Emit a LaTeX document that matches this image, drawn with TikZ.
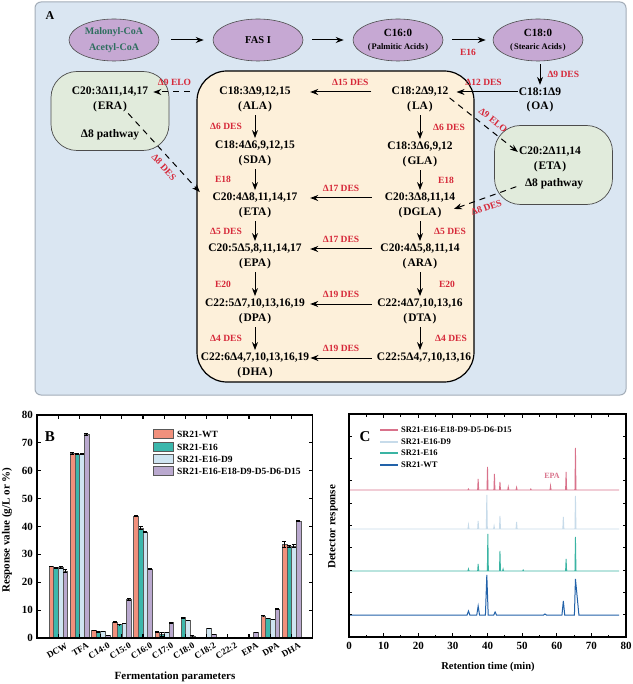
\documentclass[tikz,border=0pt]{standalone}
\usepackage{fontspec}
\setmainfont{Liberation Serif}
\usetikzlibrary{shapes.geometric, arrows.meta}
\definecolor{panelblue}{HTML}{DAE6F2}
\definecolor{panelline}{HTML}{A3ADB8}
\definecolor{lilac}{HTML}{C6A8D3}
\definecolor{cream}{HTML}{FDF0DA}
\definecolor{sage}{HTML}{E1EBDC}
\definecolor{enzred}{HTML}{D62839}
\definecolor{coagreen}{HTML}{2E6E5E}
\definecolor{wtsalmon}{HTML}{F1907C}
\definecolor{eteal}{HTML}{3BB7AC}
\definecolor{dnine}{HTML}{CFE5F2}
\definecolor{dall}{HTML}{BAA9CF}
\definecolor{trpink}{HTML}{D9728B}
\definecolor{trlight}{HTML}{C7DBEA}
\definecolor{trteal}{HTML}{3AB4A3}
\definecolor{trblue}{HTML}{2262A9}
\tikzset{
  srcnode/.style={
    ellipse, draw=black!70, fill=lilac, line width=0.6pt,
    minimum width=90pt, minimum height=42pt, inner sep=0pt,
    align=center, font=\fontsize{8.5}{13}\selectfont\bfseries,
  },
  cmpd/.style={font=\fontsize{11.5}{13}\selectfont\bfseries, inner sep=1pt},
  cmpdL/.style={cmpd, minimum width=110pt},
  cmpdR/.style={cmpd, minimum width=96pt},
  enz/.style={font=\fontsize{9.5}{10}\selectfont\bfseries, text=enzred, inner sep=1pt},
  corebox/.style={rectangle, draw=black, fill=cream, line width=1.2pt,
    rounded corners=30pt, minimum width=277pt, minimum height=311pt},
  pathbox/.style={rectangle, draw=black!70, fill=sage, line width=0.7pt,
    rounded corners=26pt, minimum width=118pt, minimum height=79pt},
  arrow/.style={-{Stealth[length=8pt, width=6pt]}, line width=1pt},
  dasharrow/.style={arrow, dash pattern=on 6pt off 5pt},
  barbox/.style={draw=black!65, line width=0.4pt},
  errbar/.style={{Bar[width=4pt]}-{Bar[width=4pt]}, line width=0.8pt},
  axframe/.style={line width=1.1pt},
  ticklbl/.style={font=\fontsize{11}{12}\selectfont\bfseries, inner sep=1pt},
  catlbl/.style={font=\fontsize{9}{10}\selectfont\bfseries, inner sep=0pt},
  axlbl/.style={font=\fontsize{11}{12}\selectfont\bfseries},
  leglbl/.style={font=\fontsize{9.5}{10}\selectfont\bfseries, inner sep=1pt},
}

\begin{document}
\begin{tikzpicture}[x=1pt, y=-1pt]
  \useasboundingbox[fill=white] (0,0) rectangle (632,684);

  % ---------------- Panel A ----------------
  \draw[fill=panelblue, draw=panelline, line width=1pt, rounded corners=6pt] (35,2) rectangle (626,395);
  \node[font=\fontsize{12}{14}\selectfont\bfseries] (labA) at (50,16) {A};

  \node[corebox] (core)   at (335.5,226.5) {};
  \node[pathbox] (erabox) at (110,111) {};
  \node[pathbox] (etabox) at (553.5,165) {};

  % Row 0: precursors
  \node[srcnode, text=coagreen, font=\fontsize{10}{16}\selectfont\bfseries] (mal) at (114,40) {Malonyl-CoA\\Acetyl-CoA};
  \node[srcnode, font=\fontsize{10.5}{12}\selectfont\bfseries] (fas) at (258,40) {FAS I};
  \node[srcnode] (c16) at (398,40) {{\fontsize{11}{13}\selectfont C16:0}\\(\kern1pt Palmitic Acids\kern1pt)};
  \node[srcnode] (c18) at (538,40) {{\fontsize{11}{13}\selectfont C18:0}\\(\kern1pt Stearic Acids\kern1pt)};

  \node[cmpd] (oa)    at (540,92)  {C18:1Δ9};
  \node[cmpd] (oa-ab) at (540,107) {(\kern1pt OA\kern1pt)};

  % n-3 column
  \node[cmpdL] (ala)    at (255,92)  {C18:3Δ9,12,15};
  \node[cmpd]  (ala-ab) at (255,107) {(\kern1pt ALA\kern1pt)};
  \node[cmpdL] (sda)    at (255,146) {C18:4Δ6,9,12,15};
  \node[cmpd]  (sda-ab) at (255,161) {(\kern1pt SDA\kern1pt)};
  \node[cmpdL] (eta)    at (255,198) {C20:4Δ8,11,14,17};
  \node[cmpd]  (eta-ab) at (255,213) {(\kern1pt ETA\kern1pt)};
  \node[cmpdL] (epa)    at (255,249) {C20:5Δ5,8,11,14,17};
  \node[cmpd]  (epa-ab) at (255,264) {(\kern1pt EPA\kern1pt)};
  \node[cmpdL] (dpa)    at (255,304) {C22:5Δ7,10,13,16,19};
  \node[cmpd]  (dpa-ab) at (255,319) {(\kern1pt DPA\kern1pt)};
  \node[cmpdL] (dha)    at (255,358) {C22:6Δ4,7,10,13,16,19};
  \node[cmpd]  (dha-ab) at (255,373) {(\kern1pt DHA\kern1pt)};

  % n-6 column
  \node[cmpd]  (la)      at (420,92)  {C18:2Δ9,12};
  \node[cmpd]  (la-ab)   at (420,107) {(\kern1pt LA\kern1pt)};
  \node[cmpdR] (gla)     at (420,147) {C18:3Δ6,9,12};
  \node[cmpd]  (gla-ab)  at (420,162) {(\kern1pt GLA\kern1pt)};
  \node[cmpdR] (dgla)    at (420,198) {C20:3Δ8,11,14};
  \node[cmpd]  (dgla-ab) at (420,213) {(\kern1pt DGLA\kern1pt)};
  \node[cmpdR] (ara)     at (420,249) {C20:4Δ5,8,11,14};
  \node[cmpd]  (ara-ab)  at (420,264) {(\kern1pt ARA\kern1pt)};
  \node[cmpdR] (dta)     at (420,304) {C22:4Δ7,10,13,16};
  \node[cmpd]  (dta-ab)  at (420,319) {(\kern1pt DTA\kern1pt)};
  \node[cmpd, minimum width=104pt] (c225) at (424,358) {C22:5Δ4,7,10,13,16};

  % side pathways
  \node[cmpd] (era)     at (110,92)  {C20:3Δ11,14,17};
  \node[cmpd] (era-ab)  at (110,107) {(\kern1pt ERA\kern1pt)};
  \node[cmpd] (erapath) at (110,135) {Δ8 pathway};
  \node[cmpd] (eta2)    at (550,152) {C20:2Δ11,14};
  \node[cmpd] (eta2-ab) at (550,167) {(\kern1pt ETA\kern1pt)};
  \node[cmpd] (etapath) at (554,184) {Δ8 pathway};

  % precursor arrows
  \draw[arrow, shorten <=12pt, shorten >=9pt] (mal.east) -- (fas.west);
  \draw[arrow, shorten <=9pt, shorten >=9pt] (fas.east) -- (c16.west);
  \draw[arrow, shorten <=9pt, shorten >=7pt] (c16.east) -- node[enz, below=8pt] {E16} (c18.west);
  \draw[arrow, shorten <=3pt, shorten >=2pt] (c18.south -| oa.north) -- node[enz, right=6pt] {Δ9 DES} (oa.north);
  \draw[arrow, shorten >=7pt] (oa.west) -- node[enz, above=5pt] {Δ12 DES} (la.east);

  % branch arrows
  \draw[arrow, shorten <=19pt] (la.west) -- node[enz, above=5pt] {Δ15 DES} (ala.east);
  \draw[dasharrow, shorten <=10pt, shorten >=4pt] (ala.west) -- node[enz, above=5pt] {Δ9 ELO} (era.east);
  \draw[dasharrow] (era-ab.south east) -- node[enz, sloped, below=5pt, pos=0.6] {Δ8 DES} (eta.north west);
  \draw[dasharrow] (la.south east) -- node[enz, sloped, above=5pt, pos=0.55] {Δ9 ELO} (eta2.west);
  \draw[dasharrow, shorten <=8pt, shorten >=12pt] (etapath.west) -- node[enz, sloped, below=5pt] {Δ8 DES} (dgla-ab.east);

  % n-3 column arrows
  \draw[arrow, shorten <=2pt, shorten >=2pt] (ala-ab.south) -- node[enz, xshift=-29pt] {Δ6 DES} (sda.north);
  \draw[arrow, shorten <=2pt, shorten >=2pt] (sda-ab.south) -- node[enz, xshift=-32pt] {E18} (eta.north);
  \draw[arrow, shorten <=2pt, shorten >=2pt] (eta-ab.south) -- node[enz, xshift=-29pt] {Δ5 DES} (epa.north);
  \draw[arrow, shorten <=2pt, shorten >=2pt] (epa-ab.south) -- node[enz, xshift=-32pt] {E20} (dpa.north);
  \draw[arrow, shorten <=2pt, shorten >=2pt] (dpa-ab.south) -- node[enz, xshift=-29pt] {Δ4 DES} (dha.north);

  % n-6 column arrows
  \draw[arrow, shorten <=2pt, shorten >=2pt] (la-ab.south) -- node[enz, xshift=29pt] {Δ6 DES} (gla.north);
  \draw[arrow, shorten <=2pt, shorten >=2pt] (gla-ab.south) -- node[enz, xshift=26pt] {E18} (dgla.north);
  \draw[arrow, shorten <=2pt, shorten >=2pt] (dgla-ab.south) -- node[enz, xshift=30pt] {Δ5 DES} (ara.north);
  \draw[arrow, shorten <=2pt, shorten >=2pt] (ara-ab.south) -- node[enz, xshift=27pt] {E20} (dta.north);
  \draw[arrow, shorten <=2pt, shorten >=2pt] (dta-ab.south) -- node[enz, xshift=31pt] {Δ4 DES} (dta-ab.south |- c225.north);

  % n-6 to n-3
  \draw[arrow] (dgla.west) -- node[enz, above=5pt] {Δ17 DES} (eta.east);
  \draw[arrow] (ara.west)  -- node[enz, above=5pt] {Δ17 DES} (epa.east);
  \draw[arrow] (dta.west)  -- node[enz, above=5pt] {Δ19 DES} (dpa.east);
  \draw[arrow] (c225.west) -- node[enz, above=5pt] {Δ19 DES} (dha.east);

  % ---------------- Panel B ----------------
  \begin{scope}[shift={(37,638)}, x=21.2pt, y=2.7875pt]
    % SR21-WT
    \foreach \i/\v/\e in {1/25.8/0.2, 2/66.3/0.4, 3/2.8/0.2, 4/5.8/0.2, 5/43.8/0.3, 6/2.2/0.2, 11/8.0/0.2, 12/33.5/1.2} {
      \draw[barbox, fill=wtsalmon] (\i-0.44,0) rectangle (\i-0.22,\v);
      \draw[errbar] (\i-0.33,\v-\e) -- (\i-0.33,\v+\e);
    }
    % SR21-E16
    \foreach \i/\v/\e in {1/25.0/0.3, 2/66.0/0.4, 3/2.2/0.2, 4/4.8/0.2, 5/39.5/0.8, 6/1.3/1.0, 7/7.3/0.3, 11/7.0/0.2, 12/33.0/0.5} {
      \draw[barbox, fill=eteal] (\i-0.22,0) rectangle (\i,\v);
      \draw[errbar] (\i-0.11,\v-\e) -- (\i-0.11,\v+\e);
    }
    % SR21-E16-D9
    \foreach \i/\v/\e in {1/25.5/0.5, 2/66.0/0.2, 3/2.4/0.2, 4/5.3/0.2, 5/38.0/0.3, 6/2.0/0.2, 7/6.3/0.2, 8/3.5/0.2, 11/6.7/0.2, 12/33.0/0.8} {
      \draw[barbox, fill=dnine] (\i,0) rectangle (\i+0.22,\v);
      \draw[errbar] (\i+0.11,\v-\e) -- (\i+0.11,\v+\e);
    }
    % SR21-E16-E18-D9-D5-D6-D15
    \foreach \i/\v/\e in {1/24.0/0.7, 2/73.0/0.6, 3/1.0/0.2, 4/14.0/0.5, 5/24.7/0.4, 6/5.5/0.4, 7/0.8/0.15, 8/1.4/0.2, 9/0.3/0.15, 10/2.0/0.3, 11/10.5/0.3, 12/42.0/0.2} {
      \draw[barbox, fill=dall] (\i+0.22,0) rectangle (\i+0.44,\v);
      \draw[errbar] (\i+0.33,\v-\e) -- (\i+0.33,\v+\e);
    }
    % frame and ticks
    \draw[axframe] (0,0) rectangle (13,80);
    \foreach \k in {0,10,...,80} {
      \draw[axframe] (0,\k) -- ++(0.19,0);
      \draw[axframe] (13,\k) -- ++(-0.19,0);
      \node[ticklbl, anchor=east, xshift=-3pt] (by\k) at (0,\k) {\k};
    }
    \foreach \i in {1,...,12} {
      \draw[axframe] (\i,0) -- ++(0,1.4);
      \draw[axframe] (\i,80) -- ++(0,-1.4);
    }
    \foreach \i/\n in {1/DCW, 2/TFA, 3/C14:0, 4/C15:0, 5/C16:0, 6/C17:0, 7/C18:0, 8/C18:2, 9/C22:2, 10/EPA, 11/DPA, 12/DHA}
      \node[catlbl, rotate=30, anchor=north east] (cat\i) at (\i+0.33,-1.5) {\n};
  \end{scope}

  \node[font=\fontsize{15}{16}\selectfont\bfseries] (labB) at (50,437) {B};
  \node[axlbl, rotate=90] (ylabB) at (7,530) {Response value (g/L or \%)};
  \node[axlbl] (xlabB) at (175,677) {Fermentation parameters};

  % legend B
  \draw[barbox, fill=wtsalmon] (153,429.5) rectangle (173,438.5);
  \draw[barbox, fill=eteal]    (153,442.5) rectangle (173,451.5);
  \draw[barbox, fill=dnine]    (153,454.5) rectangle (173,463.5);
  \draw[barbox, fill=dall]     (153,466.5) rectangle (173,475.5);
  \node[leglbl, anchor=west] (lgb1) at (176,434) {SR21-WT};
  \node[leglbl, anchor=west] (lgb2) at (176,447) {SR21-E16};
  \node[leglbl, anchor=west] (lgb3) at (176,459) {SR21-E16-D9};
  \node[leglbl, anchor=west] (lgb4) at (176,471) {SR21-E16-E18-D9-D5-D6-D15};

  % ---------------- Panel C ----------------
  \begin{scope}[shift={(349,637)}, x=3.4625pt, y=1pt]
    % chromatograms
    \draw[trpink, line width=0.9pt] (0,147)
      \foreach \t/\h in {34.5/1, 37.3/11, 40.0/23, 42.0/16, 43.6/8, 46.0/3, 48.4/2.5, 52.5/1, 58.2/4, 62.7/18, 65.4/42}
        { -- (\t-0.15,147) -- (\t,147+\h) -- (\t+0.15,147) } -- (78,147);
    \draw[trlight, line width=0.9pt] (0,108)
      \foreach \t/\h in {34.5/4, 37.3/8, 39.8/34, 41.9/3, 43.6/13, 48.4/7, 61.9/12, 65.4/33}
        { -- (\t-0.15,108) -- (\t,108+\h) -- (\t+0.15,108) } -- (78,108);
    \draw[trteal, line width=0.9pt] (0,66)
      \foreach \t/\h in {34.5/2, 37.3/7, 40.1/37, 43.6/20, 44.5/2, 50.3/1, 62.7/12, 65.4/34}
        { -- (\t-0.15,66) -- (\t,66+\h) -- (\t+0.15,66) } -- (78,66);
    \draw[trblue, line width=1pt] (0,22)
      \foreach \t/\h in {34.5/4, 37.3/9, 39.8/40, 42.2/3, 56.6/1, 61.9/14}
        { -- (\t-0.4,22) -- (\t,22+\h) -- (\t+0.4,22) } -- (65.1,22) -- (65.4,58) -- (66.4,22) -- (78,22);
    % frame and ticks
    \draw[axframe] (0,0) rectangle (80,223);
    \foreach \t in {0,10,...,80} {
      \draw[axframe] (\t,0) -- ++(0,4);
      \draw[axframe] (\t,223) -- ++(0,-4);
      \node[ticklbl, anchor=north] (ct\t) at (\t,-4) {\t};
    }
    \foreach \t in {5,15,...,75} {
      \draw[axframe] (\t,0) -- ++(0,2.5);
      \draw[axframe] (\t,223) -- ++(0,-2.5);
    }
    \foreach \k in {1,...,9} {
      \draw[axframe] (0,\k*22.3) -- ++(1,0);
      \draw[axframe] (80,\k*22.3) -- ++(-1,0);
    }
  \end{scope}

  \node[font=\fontsize{15}{16}\selectfont\bfseries] (labC) at (365,437) {C};
  \node[font=\fontsize{8}{9}\selectfont\bfseries, text=trpink] (epalbl) at (552,476) {EPA};
  \node[axlbl, rotate=90] (ylabC) at (333,527) {Detector response};
  \node[axlbl, font=\fontsize{10.5}{12}\selectfont\bfseries] (xlabC) at (488,667) {Retention time (min)};

  % legend C
  \draw[trpink, line width=1.2pt]  (380,430) -- (398,430);
  \draw[trlight, line width=1.2pt] (380,442) -- (398,442);
  \draw[trteal, line width=1.2pt]  (380,453) -- (398,453);
  \draw[trblue, line width=1.2pt]  (380,465) -- (398,465);
  \node[leglbl, font=\fontsize{8.5}{9}\selectfont\bfseries, anchor=west] (lgc1) at (400,430) {SR21-E16-E18-D9-D5-D6-D15};
  \node[leglbl, font=\fontsize{8.5}{9}\selectfont\bfseries, anchor=west] (lgc2) at (400,442) {SR21-E16-D9};
  \node[leglbl, font=\fontsize{8.5}{9}\selectfont\bfseries, anchor=west] (lgc3) at (400,453) {SR21-E16};
  \node[leglbl, font=\fontsize{8.5}{9}\selectfont\bfseries, anchor=west] (lgc4) at (400,465) {SR21-WT};

\end{tikzpicture}
\end{document}
